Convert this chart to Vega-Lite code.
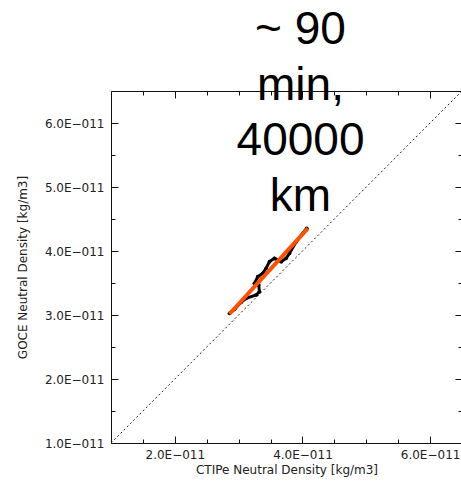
{
  "$schema": "https://vega.github.io/schema/vega-lite/v6.json",
  "autosize": {"type": "none"},
  "padding": {"left": 111, "top": 91, "right": 0, "bottom": 42},
  "width": 351,
  "height": 352,
  "background": "white",
  "config": {
    "view": {"stroke": null},
    "axis": {
      "labelFont": "DejaVu Sans",
      "labelFontSize": 12,
      "labelColor": "#222",
      "titleFont": "DejaVu Sans",
      "titleFontSize": 12,
      "titleFontWeight": "normal",
      "titleColor": "#222",
      "domainColor": "#111",
      "tickColor": "#111",
      "grid": false
    }
  },
  "title": {
    "text": ["~ 90", "min,", "40000", "km"],
    "font": "Liberation Sans",
    "fontSize": 46,
    "fontWeight": "normal",
    "lineHeight": 55.6,
    "color": "black",
    "anchor": "middle",
    "baseline": "alphabetic",
    "dx": 14,
    "dy": 172
  },
  "datasets": {
    "diag": [
      {"ctipe": 1.0e-11, "goce": 1.0e-11},
      {"ctipe": 6.5e-11, "goce": 6.5e-11}
    ],
    "obs": [
      {"i": 1, "ctipe": 2.856e-11, "goce": 3.027e-11},
      {"i": 2, "ctipe": 2.934e-11, "goce": 3.089e-11},
      {"i": 3, "ctipe": 3.039e-11, "goce": 3.198e-11},
      {"i": 4, "ctipe": 3.118e-11, "goce": 3.261e-11},
      {"i": 5, "ctipe": 3.275e-11, "goce": 3.313e-11},
      {"i": 6, "ctipe": 3.326e-11, "goce": 3.364e-11},
      {"i": 7, "ctipe": 3.315e-11, "goce": 3.469e-11},
      {"i": 8, "ctipe": 3.248e-11, "goce": 3.495e-11},
      {"i": 9, "ctipe": 3.300e-11, "goce": 3.598e-11},
      {"i": 10, "ctipe": 3.378e-11, "goce": 3.652e-11},
      {"i": 11, "ctipe": 3.431e-11, "goce": 3.730e-11},
      {"i": 12, "ctipe": 3.483e-11, "goce": 3.833e-11},
      {"i": 13, "ctipe": 3.561e-11, "goce": 3.886e-11},
      {"i": 14, "ctipe": 3.667e-11, "goce": 3.833e-11},
      {"i": 15, "ctipe": 3.745e-11, "goce": 3.886e-11},
      {"i": 16, "ctipe": 3.797e-11, "goce": 3.964e-11},
      {"i": 17, "ctipe": 3.902e-11, "goce": 4.145e-11},
      {"i": 18, "ctipe": 4.006e-11, "goce": 4.277e-11},
      {"i": 19, "ctipe": 4.068e-11, "goce": 4.355e-11}
    ],
    "fit": [
      {"ctipe": 2.856e-11, "goce": 3.016e-11},
      {"ctipe": 4.084e-11, "goce": 4.355e-11}
    ]
  },
  "resolve": {"axis": {"x": "independent", "y": "independent"}},
  "layer": [
    {
      "data": {"name": "diag"},
      "mark": {"type": "line", "color": "#222", "strokeWidth": 1, "strokeDash": [2, 2.5]},
      "encoding": {
        "x": {
          "field": "ctipe", "type": "quantitative",
          "scale": {"domain": [1.0e-11, 6.5e-11], "nice": false, "zero": false},
          "axis": {
            "orient": "bottom",
            "values": [2.0e-11, 4.0e-11, 6.0e-11],
            "tickSize": -7,
            "labelPadding": 13,
            "labelExpr": "format(datum.value * 1e11, '.1f') + 'E−011'",
            "labelFlush": false,
            "labelOverlap": false,
            "title": "CTIPe Neutral Density [kg/m3]",
            "titlePadding": 4
          }
        },
        "y": {
          "field": "goce", "type": "quantitative",
          "scale": {"domain": [1.0e-11, 6.5e-11], "nice": false, "zero": false},
          "axis": {
            "orient": "left",
            "values": [1.0e-11, 2.0e-11, 3.0e-11, 4.0e-11, 5.0e-11, 6.0e-11],
            "tickSize": -7,
            "labelPadding": 14,
            "labelExpr": "format(datum.value * 1e11, '.1f') + 'E−011'",
            "labelFlush": false,
            "labelOverlap": false,
            "title": "GOCE Neutral Density [kg/m3]",
            "titlePadding": 15
          }
        }
      }
    },
    {
      "data": {"name": "obs"},
      "mark": {"type": "line", "color": "black", "strokeWidth": 3},
      "encoding": {
        "order": {"field": "i", "type": "quantitative"},
        "x": {
          "field": "ctipe", "type": "quantitative",
          "axis": {
            "orient": "bottom",
            "values": [1.5e-11, 2.5e-11, 3.0e-11, 3.5e-11, 4.5e-11, 5.0e-11, 5.5e-11, 6.5e-11],
            "tickSize": -4, "labels": false, "domain": false, "title": null
          }
        },
        "y": {
          "field": "goce", "type": "quantitative",
          "axis": {
            "orient": "left",
            "values": [1.5e-11, 2.5e-11, 3.5e-11, 4.5e-11, 5.5e-11, 6.5e-11],
            "tickSize": -4, "labels": false, "domain": false, "title": null
          }
        }
      }
    },
    {
      "data": {"name": "obs"},
      "mark": {"type": "point", "shape": "circle", "filled": true, "color": "black", "size": 14, "opacity": 1},
      "encoding": {
        "x": {
          "field": "ctipe", "type": "quantitative",
          "axis": {
            "orient": "top",
            "values": [1.5e-11, 2.5e-11, 3.0e-11, 3.5e-11, 4.5e-11, 5.0e-11, 5.5e-11, 6.5e-11],
            "tickSize": -4, "labels": false, "domain": false, "title": null
          }
        },
        "y": {
          "field": "goce", "type": "quantitative",
          "axis": {
            "orient": "right",
            "values": [1.5e-11, 2.5e-11, 3.5e-11, 4.5e-11, 5.5e-11, 6.5e-11],
            "tickSize": -4, "labels": false, "domain": false, "title": null
          }
        }
      }
    },
    {
      "data": {"name": "fit"},
      "mark": {"type": "line", "color": "#ff4f00", "strokeWidth": 4},
      "encoding": {
        "x": {
          "field": "ctipe", "type": "quantitative",
          "axis": {
            "orient": "top",
            "values": [2.0e-11, 4.0e-11, 6.0e-11],
            "tickSize": -7, "labels": false, "title": null
          }
        },
        "y": {
          "field": "goce", "type": "quantitative",
          "axis": {
            "orient": "right",
            "values": [1.0e-11, 2.0e-11, 3.0e-11, 4.0e-11, 5.0e-11, 6.0e-11],
            "tickSize": -7, "labels": false, "domain": false, "title": null
          }
        }
      }
    }
  ]
}
